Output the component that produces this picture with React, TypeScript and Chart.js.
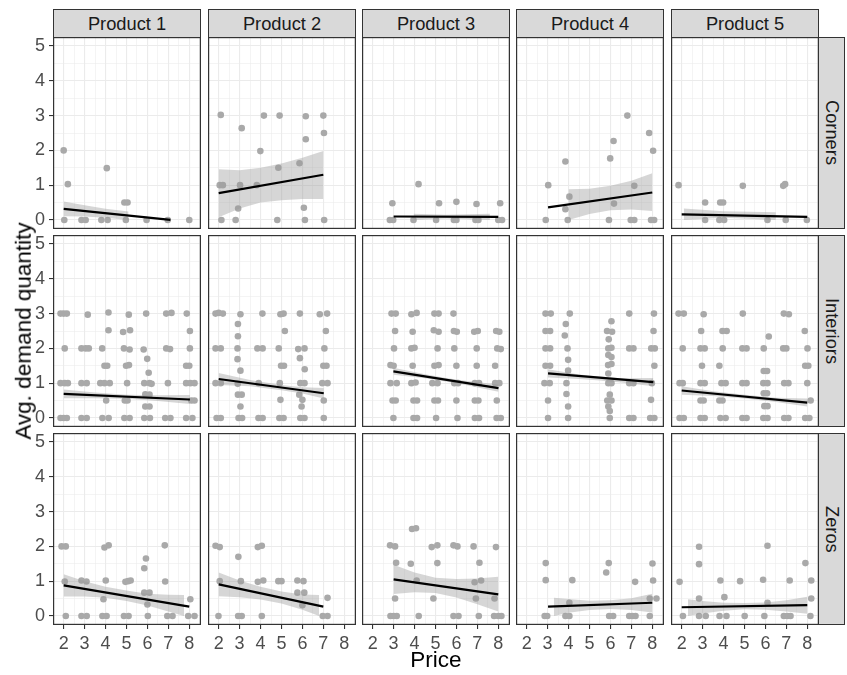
import React, { useEffect, useRef } from 'react';
import { Chart, registerables } from 'chart.js';

Chart.register(...registerables);

// ---------- categories & ticks ----------
const PRODUCTS = ['Product 1', 'Product 2', 'Product 3', 'Product 4', 'Product 5'];
const SEGMENTS = ['Corners', 'Interiors', 'Zeros'];
const X_TICKS = [1.5, 2, 2.5, 3, 3.5, 4, 4.5, 5, 5.5, 6, 6.5, 7, 7.5, 8, 8.5];
const Y_TICKS = [0, 0.5, 1, 1.5, 2, 2.5, 3, 3.5, 4, 4.5, 5];
const X_RANGE = [1.49, 8.56];
const Y_RANGE = [-0.26, 5.26];
const X_TITLE = 'Price';
const Y_TITLE = 'Avg. demand quantity';

// ---------- data: points [price, quantity], fit [[x0,y0],[x1,y1]], band [x, lower, upper] ----------
// Corners
const corners1Pts = [[2.0, 2.0], [2.2, 1.03], [4.06, 1.49], [4.9, 0.5], [5.05, 0.5], [2.03, 0], [2.85, 0], [3.05, 0], [3.8, 0], [4.1, 0], [4.97, 0], [5.96, 0], [6.97, 0], [8.0, 0]];
const corners1Fit = [[2.0, 0.32], [7.1, 0.0]];
const corners1Band = [[2.0, 0.11, 0.53], [3.0, 0.1, 0.42], [4.0, 0.06, 0.32], [5.1, 0.0, 0.24]];

const corners2Pts = [[2.1, 3.02], [3.1, 2.64], [4.16, 3.0], [4.91, 3.0], [6.16, 2.98], [7.0, 3.0], [7.03, 2.5], [6.16, 2.32], [3.99, 1.98], [4.85, 1.5], [5.86, 1.63], [2.05, 1.0], [2.2, 1.0], [3.02, 1.0], [3.82, 1.0], [2.93, 0.33], [6.07, 0.35], [2.13, 0], [2.81, 0], [4.8, 0], [6.12, 0], [7.04, 0]];
const corners2Fit = [[2.0, 0.77], [7.0, 1.3]];
const corners2Band = [[2.0, 0.08, 1.46], [3.0, 0.33, 1.43], [4.0, 0.5, 1.5], [5.0, 0.57, 1.62], [6.0, 0.6, 1.79], [7.0, 0.6, 1.98]];

const corners3Pts = [[4.19, 1.03], [2.94, 0.48], [5.17, 0.48], [6.0, 0.52], [6.96, 0.46], [8.09, 0.48], [2.82, 0], [2.98, 0], [3.95, 0], [5.03, 0], [5.88, 0], [6.0, 0], [6.91, 0], [7.05, 0], [8.0, 0], [8.18, 0]];
const corners3Fit = [[3.0, 0.1], [8.0, 0.09]];
const corners3Band = [[3.95, 0.0, 0.18], [5.5, 0.04, 0.15], [7.6, 0.0, 0.18]];

const corners4Pts = [[6.81, 3.0], [7.85, 2.5], [6.15, 2.27], [8.04, 1.99], [3.85, 1.68], [5.99, 1.77], [3.03, 1.0], [7.14, 0.98], [4.04, 0.67], [3.85, 0.31], [6.17, 0.47], [2.91, 0], [3.96, 0], [5.93, 0], [6.97, 0], [7.14, 0], [7.94, 0], [8.09, 0]];
const corners4Fit = [[3.02, 0.36], [8.0, 0.79]];
const corners4Band = [[4.0, 0.0, 0.88], [5.0, 0.17, 0.9], [6.0, 0.28, 0.98], [7.0, 0.3, 1.13], [8.0, 0.26, 1.34]];

const corners5Pts = [[1.85, 1.0], [4.92, 0.98], [6.85, 0.98], [6.94, 1.03], [3.12, 0.5], [3.84, 0.5], [3.98, 0.5], [3.12, 0], [3.8, 0], [4.03, 0], [6.1, 0], [6.97, 0], [7.98, 0]];
const corners5Fit = [[2.0, 0.16], [8.0, 0.09]];
const corners5Band = [[2.1, 0.0, 0.33], [4.0, 0.06, 0.25], [6.5, 0.0, 0.22]];

// Interiors
const interiors1Pts = [
  [1.85, 3], [2.0, 3], [2.15, 3.0], [3.15, 2.97], [4.14, 3.03], [5.11, 2.97], [5.94, 3.0], [6.9, 3.0], [7.15, 3.02], [7.88, 3.0],
  [4.14, 2.52], [4.84, 2.47], [5.17, 2.52], [8.03, 2.5],
  [2.05, 2.0], [2.85, 2.0], [3.05, 2.0], [3.2, 2.0], [3.84, 2.0], [4.88, 2.0], [5.15, 1.97], [5.82, 1.97], [6.9, 2.0], [7.08, 1.98], [8.03, 2.0],
  [5.99, 1.7], [3.95, 1.5], [4.08, 1.5], [4.98, 1.5], [5.12, 1.52], [7.85, 1.5], [8.0, 1.5], [6.06, 1.3],
  [1.85, 1.0], [2.05, 1.0], [2.2, 1.0], [2.85, 1.0], [3.1, 1.0], [3.75, 1.0], [3.95, 1.0], [4.2, 1.0], [5.03, 1.0], [5.85, 1.0], [6.1, 1.0], [6.2, 0.98], [6.98, 1.0], [7.85, 1.0], [8.05, 1.0], [8.25, 1.0],
  [5.9, 0.68], [6.1, 0.67], [4.03, 0.5], [4.92, 0.5], [5.05, 0.5], [8.1, 0.5], [8.25, 0.5], [5.9, 0.33], [6.1, 0.33],
  [1.85, 0], [2.0, 0], [2.15, 0], [2.85, 0], [3.1, 0], [3.85, 0], [4.15, 0], [4.9, 0], [5.15, 0], [5.85, 0], [6.12, 0], [6.85, 0], [7.1, 0], [7.85, 0], [8.15, 0],
];
const interiors1Fit = [[2.0, 0.69], [8.03, 0.53]];
const interiors1Band = [[2.0, 0.57, 0.82], [3.5, 0.57, 0.73], [5.0, 0.55, 0.67], [6.5, 0.49, 0.65], [8.03, 0.4, 0.66]];

const interiors2Pts = [
  [1.85, 3.0], [2.0, 3.02], [2.2, 3.0], [3.04, 2.98], [4.09, 3.0], [4.95, 2.98], [5.1, 3.0], [5.88, 3.0], [6.83, 2.98], [7.18, 3.0],
  [2.92, 2.7], [5.16, 2.5], [7.12, 2.5], [2.92, 2.35],
  [1.85, 2.0], [2.1, 2.0], [2.9, 2.0], [3.85, 2.0], [4.1, 2.0], [4.87, 2.0], [5.8, 1.98], [6.1, 2.0], [7.05, 2.0],
  [2.9, 1.69], [5.88, 1.72], [4.98, 1.5], [5.12, 1.5], [7.0, 1.5], [7.15, 1.5], [3.04, 1.36], [6.11, 1.4],
  [1.85, 1.0], [2.1, 1.0], [2.91, 0.98], [3.91, 1.0], [4.92, 1.0], [5.9, 1.0], [6.1, 1.0], [6.95, 1.0], [7.2, 1.0],
  [2.92, 0.67], [3.1, 0.67], [4.95, 0.52], [5.85, 0.67], [6.0, 0.52], [7.02, 0.5], [3.04, 0.33], [5.96, 0.33],
  [1.9, 0], [2.1, 0], [2.95, 0], [3.12, 0], [3.9, 0], [4.1, 0], [4.9, 0], [5.1, 0], [5.9, 0], [6.1, 0], [7.02, 0],
];
const interiors2Fit = [[2.0, 1.12], [7.02, 0.71]];
const interiors2Band = [[2.0, 0.95, 1.29], [3.5, 0.91, 1.09], [5.0, 0.8, 0.95], [6.0, 0.7, 0.88], [7.02, 0.56, 0.86]];

const interiors3Pts = [
  [2.9, 3.0], [3.1, 3.0], [3.85, 2.98], [4.1, 3.02], [4.95, 3.0], [5.15, 3.0], [5.86, 3.0],
  [3.07, 2.5], [3.91, 2.48], [4.92, 2.52], [5.15, 2.48], [5.88, 2.5], [6.02, 2.48], [6.85, 2.48], [7.02, 2.5], [7.9, 2.5], [8.05, 2.48],
  [3.02, 2.0], [3.85, 2.0], [4.0, 2.02], [5.1, 2.0], [5.9, 2.0], [6.97, 2.0], [7.95, 2.0], [8.12, 1.98],
  [2.85, 1.52], [3.0, 1.5], [3.91, 1.5], [4.95, 1.5], [5.15, 1.52], [6.0, 1.5], [6.97, 1.5], [7.85, 1.5],
  [2.85, 1.0], [3.15, 1.0], [3.85, 1.0], [4.05, 1.02], [4.85, 1.0], [5.1, 1.0], [5.9, 1.0], [6.08, 1.0], [6.88, 1.0], [7.08, 1.0], [7.85, 1.0], [8.05, 1.0],
  [2.95, 0.5], [3.1, 0.5], [3.95, 0.5], [4.12, 0.5], [4.95, 0.5], [5.12, 0.5], [6.0, 0.5], [6.88, 0.5], [7.05, 0.5], [7.93, 0.5],
  [2.99, 0], [3.95, 0], [4.12, 0], [5.03, 0], [6.05, 0], [6.88, 0], [7.08, 0], [7.92, 0], [8.12, 0],
];
const interiors3Fit = [[2.99, 1.34], [8.01, 0.86]];
const interiors3Band = [[2.99, 1.24, 1.44], [4.5, 1.14, 1.26], [5.5, 1.05, 1.15], [6.5, 0.94, 1.06], [8.01, 0.75, 0.96]];

const interiors4Pts = [
  [2.9, 3.0], [3.15, 3.0], [4.06, 3.0], [6.9, 3.0], [8.08, 3.0],
  [3.87, 2.7], [6.05, 2.78],
  [2.9, 2.5], [3.12, 2.5], [5.84, 2.5], [6.08, 2.48], [8.06, 2.5], [3.82, 2.37], [5.92, 2.26],
  [2.9, 2.0], [3.12, 2.0], [3.95, 2.0], [5.9, 2.0], [6.05, 2.02], [6.9, 2.0], [7.1, 2.0], [7.95, 2.0], [8.12, 2.0],
  [5.9, 1.81], [6.05, 1.75], [3.98, 1.67], [2.9, 1.5], [3.12, 1.5], [5.89, 1.52], [6.05, 1.55], [8.1, 1.5], [3.98, 1.36], [5.9, 1.28],
  [2.85, 1.0], [3.1, 1.0], [3.9, 1.0], [5.9, 1.0], [6.05, 1.0], [6.9, 1.0], [7.1, 1.0], [7.98, 1.0],
  [3.9, 0.69], [5.97, 0.67], [3.02, 0.5], [5.85, 0.5], [6.05, 0.5], [7.94, 0.52], [3.98, 0.33], [5.9, 0.33], [5.97, 0.2],
  [3.02, 0], [3.98, 0], [5.97, 0], [6.9, 0], [7.1, 0], [7.9, 0], [8.1, 0],
];
const interiors4Fit = [[3.02, 1.28], [8.05, 1.03]];
const interiors4Band = [[3.02, 1.16, 1.4], [4.5, 1.12, 1.25], [5.5, 1.08, 1.19], [6.5, 1.02, 1.14], [8.05, 0.91, 1.15]];

const interiors5Pts = [
  [1.85, 3.0], [2.1, 3.0], [3.05, 2.98], [4.92, 3.0], [6.88, 3.0], [7.12, 2.98],
  [2.93, 2.5], [3.95, 2.5], [4.15, 2.5], [7.88, 2.5], [6.16, 2.34],
  [2.05, 2.0], [2.9, 2.0], [3.1, 2.0], [3.96, 2.0], [4.9, 2.0], [5.1, 2.0], [5.92, 2.0], [6.85, 2.0], [7.0, 2.0], [8.01, 2.0],
  [2.97, 1.5], [3.8, 1.5], [7.9, 1.5], [8.05, 1.5], [5.92, 1.35], [6.08, 1.35],
  [1.9, 1.0], [2.05, 1.0], [2.9, 1.0], [3.1, 1.0], [3.9, 1.0], [4.1, 1.0], [4.9, 1.0], [5.1, 1.0], [5.9, 1.0], [6.1, 1.0], [6.9, 1.0], [7.1, 1.0], [8.0, 1.0],
  [5.92, 0.71], [6.08, 0.71], [2.9, 0.5], [3.05, 0.5], [3.8, 0.5], [3.95, 0.5], [8.16, 0.5], [5.95, 0.34], [6.1, 0.34],
  [1.9, 0], [2.1, 0], [2.9, 0], [3.1, 0], [3.85, 0], [4.1, 0], [4.9, 0], [5.1, 0], [5.9, 0], [6.1, 0], [6.9, 0], [7.1, 0], [7.9, 0], [8.1, 0],
];
const interiors5Fit = [[2.0, 0.79], [8.0, 0.44]];
const interiors5Band = [[2.0, 0.67, 0.91], [3.5, 0.63, 0.77], [5.0, 0.56, 0.67], [6.5, 0.46, 0.58], [8.0, 0.33, 0.56]];

// Zeros
const zeros1Pts = [
  [1.9, 2.0], [2.1, 2.0], [3.95, 1.97], [4.15, 2.03], [6.83, 2.03], [5.93, 1.65], [5.85, 1.37],
  [2.05, 0.99], [2.85, 1.02], [3.09, 0.99], [4.01, 1.02], [4.95, 0.98], [5.08, 1.0], [5.2, 1.02], [6.85, 0.99],
  [5.85, 0.67], [6.1, 0.67], [3.9, 0.48], [8.05, 0.48], [6.0, 0.33],
  [2.1, 0], [2.85, 0], [3.1, 0], [3.85, 0], [4.05, 0], [4.88, 0], [5.1, 0], [6.02, 0], [6.95, 0], [7.2, 0], [7.95, 0], [8.25, 0],
];
const zeros1Fit = [[2.0, 0.88], [8.0, 0.27]];
const zeros1Band = [[2.0, 0.56, 1.2], [3.0, 0.56, 1.0], [4.0, 0.52, 0.84], [5.0, 0.43, 0.73], [6.0, 0.3, 0.64], [7.0, 0.13, 0.61], [7.75, 0.0, 0.6]];

const zeros2Pts = [
  [1.85, 2.02], [2.05, 1.98], [3.87, 1.98], [4.06, 2.02], [2.94, 1.7],
  [2.05, 1.0], [3.06, 1.0], [3.87, 0.98], [4.13, 1.02], [4.85, 1.0], [5.0, 1.0], [5.76, 1.02], [6.05, 1.0],
  [5.76, 0.67], [6.09, 0.67], [7.2, 0.52], [6.0, 0.31],
  [1.99, 0], [2.93, 0], [3.1, 0], [4.06, 0], [6.97, 0], [7.2, 0],
];
const zeros2Fit = [[2.0, 0.91], [7.0, 0.27]];
const zeros2Band = [[2.0, 0.57, 1.25], [3.0, 0.54, 1.02], [4.0, 0.47, 0.84], [5.0, 0.36, 0.7], [6.0, 0.18, 0.62], [6.8, 0.0, 0.6]];

const zeros3Pts = [
  [3.88, 2.5], [4.07, 2.52], [2.83, 2.03], [3.07, 2.0], [4.82, 1.98], [5.09, 2.03], [5.86, 2.03], [6.05, 2.0], [6.82, 2.0], [7.89, 1.98],
  [3.12, 1.53], [3.82, 1.5], [5.09, 1.52], [7.1, 1.53],
  [4.1, 1.02], [6.87, 0.97], [7.18, 1.02],
  [3.07, 0.5], [4.9, 0.5], [6.93, 0.5], [7.82, 0.5],
  [2.85, 0], [3.0, 0], [3.15, 0], [4.2, 0], [5.86, 0], [6.1, 0], [7.07, 0], [7.8, 0], [8.0, 0], [8.15, 0],
];
const zeros3Fit = [[3.0, 1.05], [8.0, 0.62]];
const zeros3Band = [[3.0, 0.63, 1.47], [4.0, 0.68, 1.25], [5.0, 0.66, 1.1], [6.0, 0.53, 1.06], [7.0, 0.34, 1.08], [8.0, 0.13, 1.13]];

const zeros4Pts = [
  [2.91, 1.52], [5.92, 1.52], [8.01, 1.51], [5.8, 1.25], [2.91, 1.03], [4.18, 1.03], [7.18, 0.98], [8.04, 1.02],
  [7.88, 0.5], [8.2, 0.5], [4.04, 0.38],
  [2.86, 0], [2.98, 0], [3.85, 0], [4.04, 0], [5.94, 0], [6.13, 0], [6.9, 0], [7.05, 0], [7.2, 0], [7.88, 0],
];
const zeros4Fit = [[3.02, 0.27], [8.0, 0.38]];
const zeros4Band = [[3.3, 0.0, 0.52], [4.0, 0.09, 0.49], [5.0, 0.17, 0.44], [6.0, 0.2, 0.45], [7.0, 0.17, 0.51], [8.0, 0.1, 0.64]];

const zeros5Pts = [
  [1.9, 0.98], [2.83, 1.99], [2.83, 1.49], [2.83, 0.5], [3.85, 1.02], [4.04, 0.54], [4.79, 1.0], [5.89, 1.04], [6.1, 2.02], [6.1, 0.38],
  [7.16, 1.02], [7.91, 1.52], [8.19, 1.02], [8.19, 0.5],
  [2.06, 0], [2.83, 0], [3.15, 0], [3.81, 0], [4.14, 0], [5.01, 0], [5.95, 0], [6.88, 0], [7.05, 0], [7.2, 0], [8.15, 0],
];
const zeros5Fit = [[2.0, 0.25], [8.0, 0.31]];
const zeros5Band = [[2.3, 0.0, 0.48], [3.0, 0.07, 0.43], [4.0, 0.15, 0.38], [5.0, 0.19, 0.37], [6.0, 0.18, 0.39], [7.0, 0.13, 0.45], [8.0, 0.06, 0.55]];

const PANEL_POINTS = [
  [corners1Pts, corners2Pts, corners3Pts, corners4Pts, corners5Pts],
  [interiors1Pts, interiors2Pts, interiors3Pts, interiors4Pts, interiors5Pts],
  [zeros1Pts, zeros2Pts, zeros3Pts, zeros4Pts, zeros5Pts],
];
const PANEL_FITS = [
  [corners1Fit, corners2Fit, corners3Fit, corners4Fit, corners5Fit],
  [interiors1Fit, interiors2Fit, interiors3Fit, interiors4Fit, interiors5Fit],
  [zeros1Fit, zeros2Fit, zeros3Fit, zeros4Fit, zeros5Fit],
];
const PANEL_BANDS = [
  [corners1Band, corners2Band, corners3Band, corners4Band, corners5Band],
  [interiors1Band, interiors2Band, interiors3Band, interiors4Band, interiors5Band],
  [zeros1Band, zeros2Band, zeros3Band, zeros4Band, zeros5Band],
];

// ---------- layout & style ----------
const FONT = "'Liberation Sans', Arial, Helvetica, sans-serif";
const COL_LEFT = [53, 208, 362, 516, 671];
const ROW_TOP = [37, 235, 433];
const PANEL_W = 148;
const PANEL_H = 192;
const Y_AXIS_W = 28;
const X_AXIS_H = 27;
const STRIP_TOP = 9;
const STRIP_W = 27;
const GRID = '#EBEBEB';
const DARK = '#333333';

const isMajor = (v: number) => Math.abs(v - Math.round(v)) < 1e-6;

const borderPlugin = {
  id: 'panelBorder',
  afterDraw(chart: any) {
    const { ctx, chartArea: a } = chart;
    ctx.save();
    ctx.strokeStyle = DARK;
    ctx.lineWidth = 1.2;
    ctx.strokeRect(a.left + 0.6, a.top + 0.6, a.right - a.left - 1.2, a.bottom - a.top - 1.2);
    ctx.restore();
  },
};

function axisOptions(kind: 'x' | 'y', show: boolean) {
  const range = kind === 'x' ? X_RANGE : Y_RANGE;
  const ticks = kind === 'x' ? X_TICKS : Y_TICKS;
  return {
    type: 'linear',
    position: kind === 'x' ? 'bottom' : 'left',
    min: range[0],
    max: range[1],
    afterBuildTicks: (s: any) => {
      s.ticks = ticks.map((v) => ({ value: v }));
    },
    afterFit: (s: any) => {
      if (kind === 'x') s.height = show ? X_AXIS_H : 0;
      else s.width = show ? Y_AXIS_W : 0;
      s.paddingLeft = 0;
      s.paddingRight = 0;
      s.paddingTop = 0;
      s.paddingBottom = 0;
    },
    border: { display: false },
    grid: {
      color: GRID,
      lineWidth: (c: any) => (c.tick && isMajor(c.tick.value) ? 1.1 : 0.55),
      drawTicks: show,
      tickLength: 4,
      tickWidth: 1.1,
      tickColor: (c: any) => (c.tick && isMajor(c.tick.value) ? DARK : 'rgba(0,0,0,0)'),
    },
    ticks: {
      display: show,
      autoSkip: false,
      maxRotation: 0,
      minRotation: 0,
      padding: kind === 'x' ? 4 : 4,
      color: '#4D4D4D',
      font: { size: 18, family: FONT },
      callback: (v: number) => (isMajor(v) ? String(Math.round(v)) : ''),
    },
  };
}

function Panel({ row, col }: { row: number; col: number }) {
  const ref = useRef<HTMLCanvasElement>(null);
  const showY = col === 0;
  const showX = row === SEGMENTS.length - 1;
  const left = COL_LEFT[col] - (showY ? Y_AXIS_W : 0);
  const top = ROW_TOP[row];
  const width = PANEL_W + (showY ? Y_AXIS_W : 0);
  const height = PANEL_H + (showX ? X_AXIS_H : 0);

  useEffect(() => {
    const pts = PANEL_POINTS[row][col];
    const fit = PANEL_FITS[row][col];
    const band = PANEL_BANDS[row][col];
    const chart = new Chart(ref.current as HTMLCanvasElement, {
      type: 'scatter',
      data: {
        datasets: [
          {
            type: 'line',
            label: 'fit',
            data: fit.map(([x, y]) => ({ x, y })),
            borderColor: '#000000',
            borderWidth: 2.2,
            pointRadius: 0,
            fill: false,
          },
          {
            type: 'line',
            label: 'upper',
            data: band.map(([x, , hi]) => ({ x, y: hi })),
            borderColor: 'rgba(0,0,0,0)',
            borderWidth: 1,
            pointRadius: 0,
            fill: false,
          },
          {
            type: 'line',
            label: 'lower',
            data: band.map(([x, lo]) => ({ x, y: lo })),
            borderColor: 'rgba(0,0,0,0)',
            borderWidth: 1,
            pointRadius: 0,
            fill: '-1',
            backgroundColor: 'rgba(153,153,153,0.4)',
          },
          {
            type: 'scatter',
            label: 'points',
            data: pts.map(([x, y]) => ({ x, y })),
            backgroundColor: '#A9A9A9',
            borderWidth: 0,
            pointRadius: 3.3,
          },
        ] as any,
      },
      options: {
        responsive: false,
        maintainAspectRatio: false,
        animation: false,
        events: [],
        layout: { padding: 0, autoPadding: false },
        plugins: { legend: { display: false }, tooltip: { enabled: false }, title: { display: false } },
        scales: {
          x: axisOptions('x', showX) as any,
          y: axisOptions('y', showY) as any,
        },
      } as any,
      plugins: [borderPlugin],
    });
    return () => chart.destroy();
  }, []);

  return (
    <canvas
      ref={ref}
      width={width}
      height={height}
      style={{ position: 'absolute', left, top, width, height }}
    />
  );
}

export default function App() {
  return (
    <div
      style={{
        position: 'absolute',
        left: 0,
        top: 0,
        width: 847,
        height: 675,
        background: '#FFFFFF',
        fontFamily: FONT,
        overflow: 'hidden',
      }}
    >
      {PRODUCTS.map((p, c) => (
        <div
          key={p}
          style={{
            position: 'absolute',
            left: COL_LEFT[c],
            top: STRIP_TOP,
            width: PANEL_W,
            height: ROW_TOP[0] - STRIP_TOP + 1,
            boxSizing: 'border-box',
            background: '#D9D9D9',
            border: `1.2px solid ${DARK}`,
            color: '#1A1A1A',
            fontSize: 18.3,
            display: 'flex',
            alignItems: 'center',
            justifyContent: 'center',
          }}
        >
          {p}
        </div>
      ))}
      {SEGMENTS.map((s, r) => (
        <div
          key={s}
          style={{
            position: 'absolute',
            left: COL_LEFT[4] + PANEL_W - 1,
            top: ROW_TOP[r],
            width: STRIP_W,
            height: PANEL_H,
            boxSizing: 'border-box',
            background: '#D9D9D9',
            border: `1.2px solid ${DARK}`,
            color: '#1A1A1A',
            fontSize: 18.3,
            display: 'flex',
            alignItems: 'center',
            justifyContent: 'center',
          }}
        >
          <span style={{ writingMode: 'vertical-rl', whiteSpace: 'nowrap' }}>{s}</span>
        </div>
      ))}
      {SEGMENTS.map((s, r) =>
        PRODUCTS.map((p, c) => <Panel key={`${s}-${p}`} row={r} col={c} />)
      )}
      <div
        style={{
          position: 'absolute',
          left: 24,
          top: 331,
          transform: 'translate(-50%, -50%) rotate(-90deg)',
          whiteSpace: 'nowrap',
          fontSize: 22.5,
          lineHeight: '22.5px',
          color: '#000000',
        }}
      >
        {Y_TITLE}
      </div>
      <div
        style={{
          position: 'absolute',
          left: 436,
          top: 649,
          transform: 'translateX(-50%)',
          whiteSpace: 'nowrap',
          fontSize: 22.5,
          lineHeight: '22.5px',
          color: '#000000',
        }}
      >
        {X_TITLE}
      </div>
    </div>
  );
}
